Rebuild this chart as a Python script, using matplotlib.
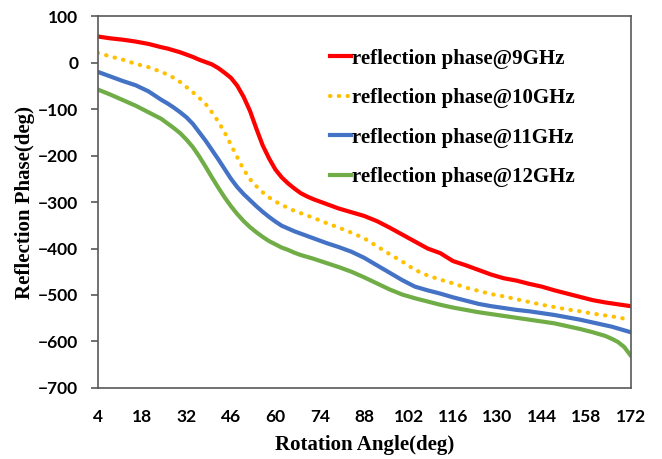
import numpy as np
import matplotlib
matplotlib.use("Agg")
import matplotlib.pyplot as plt

# rotation angle (deg), read denser where the curves bend
angle = [4, 8, 12, 16, 20, 24, 26, 28, 30, 32, 34, 36, 38, 40, 42, 44, 46, 48,
         50, 52, 54, 56, 58, 60, 62, 64, 66, 68, 70, 72, 76, 80, 84, 88, 92, 96,
         100, 104, 108, 112, 116, 120, 124, 128, 132, 136, 140, 144, 148, 152,
         156, 160, 164, 166, 168, 170, 172]

phase_9ghz = [56, 52, 49, 45, 40, 33, 30, 26, 22, 17, 12, 6, 1, -4, -12, -22,
              -33, -50, -74, -104, -142, -178, -206, -230, -247, -260, -271,
              -281, -288, -294, -304, -314, -322, -330, -341, -355, -370, -385,
              -400, -410, -427, -436, -446, -456, -464, -469, -476, -482, -490,
              -497, -504, -511, -516, -518, -520, -522, -524]
phase_10ghz = [21, 13, 6, -3, -10, -20, -26, -33, -42, -53, -64, -76, -89,
               -107, -127, -150, -177, -204, -230, -251, -266, -279, -290, -299,
               -306, -313, -319, -324, -329, -334, -345, -355, -366, -378, -395,
               -412, -428, -446, -458, -467, -475, -484, -491, -498, -503, -509,
               -515, -521, -526, -531, -535, -540, -544, -546, -548, -551, -553]
phase_11ghz = [-20, -30, -40, -49, -62, -80, -88, -97, -107, -118, -132, -150,
               -168, -188, -208, -229, -250, -268, -283, -296, -309, -321, -332,
               -342, -351, -357, -363, -368, -373, -378, -388, -397, -407, -420,
               -436, -452, -468, -482, -490, -497, -505, -512, -519, -524, -528,
               -532, -535, -539, -543, -548, -553, -559, -565, -568, -572, -576,
               -580]
phase_12ghz = [-58, -69, -81, -93, -107, -121, -131, -141, -152, -166, -182,
               -202, -224, -247, -269, -290, -309, -326, -341, -354, -365, -375,
               -384, -391, -398, -403, -409, -414, -418, -422, -431, -440, -450,
               -462, -475, -488, -499, -507, -514, -521, -527, -532, -537, -541,
               -545, -549, -553, -557, -561, -567, -573, -580, -588, -594, -601,
               -612, -630]

labels = ["reflection phase@9GHz", "reflection phase@10GHz",
          "reflection phase@11GHz", "reflection phase@12GHz"]
colors = ["#FF0000", "#FFC000", "#4472C4", "#70AD47"]

fig = plt.figure(figsize=(6.62, 4.59), dpi=100)
ax = fig.add_axes([0.1476, 0.1547, 0.805, 0.8104])

ax.plot(angle, phase_9ghz, color=colors[0], lw=3, label=labels[0])
ax.plot(angle, phase_10ghz, color=colors[1], lw=3, label=labels[1],
        linestyle=(0, (0.1, 2.0)), dash_capstyle="round")
ax.plot(angle, phase_11ghz, color=colors[2], lw=3, label=labels[2])
ax.plot(angle, phase_12ghz, color=colors[3], lw=3, label=labels[3])

ax.set_xlim(4, 172)
ax.set_ylim(-700, 100)
ax.set_xticks(np.arange(4, 173, 14))
ax.set_yticks(np.arange(-700, 101, 100))

for s in ax.spines.values():
    s.set_color("#595959")
    s.set_linewidth(1.2)

ax.tick_params(axis="y", direction="out", length=5, width=1.2, color="#595959", pad=9)
ax.tick_params(axis="x", length=0, pad=15)
for t in ax.get_xticklabels() + ax.get_yticklabels():
    t.set_fontfamily("Lato")
    t.set_fontweight("bold")
    t.set_fontsize(12.5)

ax.set_xlabel("Rotation Angle(deg)", family="Liberation Serif", weight="bold",
              fontsize=15, labelpad=7)
ax.set_ylabel("Reflection Phase(deg)", family="Liberation Serif", weight="bold",
              fontsize=15, labelpad=2)

leg = ax.legend(loc="upper left", bbox_to_anchor=(0.436, 0.912), frameon=False,
                prop={"family": "Liberation Serif", "weight": "bold", "size": 15},
                handlelength=1.0, handletextpad=0.05, labelspacing=0.93,
                borderpad=0, borderaxespad=0)

fig.savefig("out.png", dpi=100)
